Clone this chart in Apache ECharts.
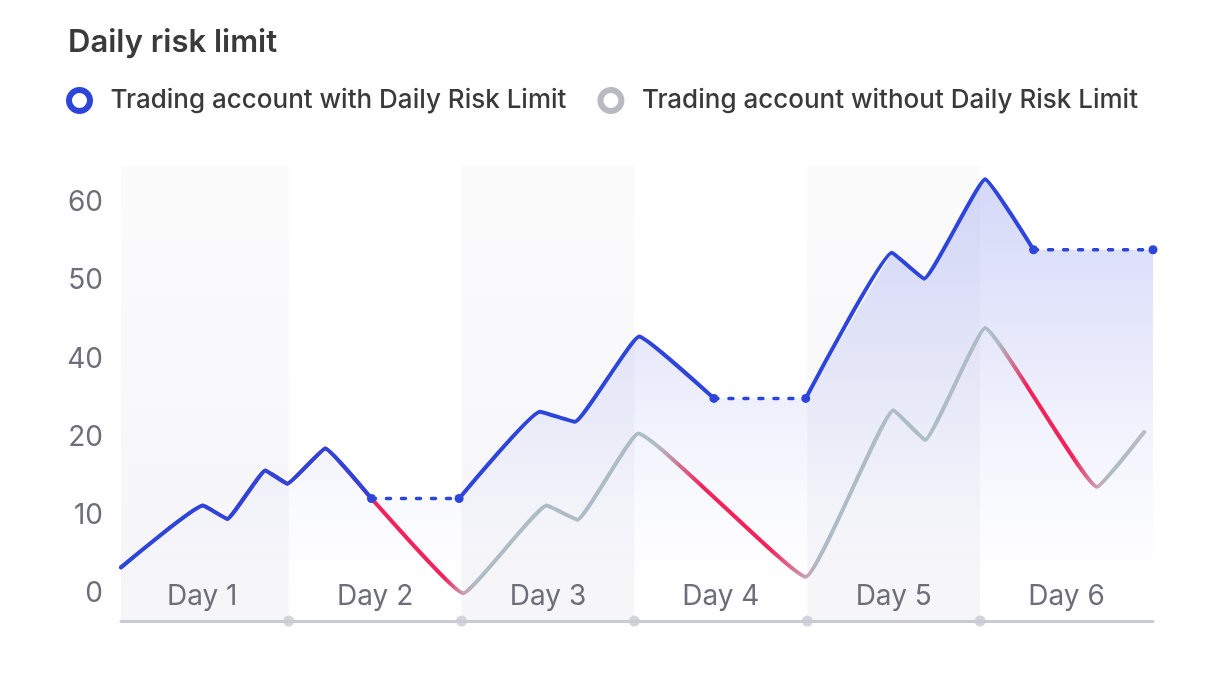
<!DOCTYPE html>
<html><head><meta charset="utf-8">
<script src="https://cdn.jsdelivr.net/npm/echarts@6/dist/echarts.min.js"></script>
<style>html,body{margin:0;padding:0;background:#fff}#c{width:1217px;height:686px}</style>
</head><body><div id="c"></div>
<script>
// ---- data ----
const dayLabels = ['Day 1', 'Day 2', 'Day 3', 'Day 4', 'Day 5', 'Day 6'];
const dayCenters = [0.5, 1.5, 2.5, 3.5, 4.5, 5.5];
const dayBoundaries = [1, 2, 3, 4, 5];
const shadedDays = [[0, 1], [2, 3], [4, 5]];
const yTickValues = [0, 10, 20, 30, 40, 50];
const yTickLabels = ['0', '10', '20', '40', '50', '60'];
const withName = 'Trading account with Daily Risk Limit';
const withoutName = 'Trading account without Daily Risk Limit';
const withX = [0.03, 0.504, 0.645, 0.865, 0.993, 1.212, 1.479, 1.986, 2.453, 2.656, 3.028, 3.460, 3.991, 4.489, 4.676, 5.029, 5.309, 6.0];
const withY = [3.4, 11.3, 9.6, 15.8, 14.1, 18.6, 12.2, 12.2, 23.3, 22.0, 32.9, 25.0, 25.0, 43.6, 40.3, 53.0, 44.0, 44.0];
const withoutX = [0.03, 0.504, 0.645, 0.865, 0.993, 1.212, 1.479, 2.010, 2.492, 2.671, 3.022, 3.991, 4.498, 4.682, 5.029, 5.676, 5.949];
const withoutY = [3.4, 11.3, 9.6, 15.8, 14.1, 18.6, 12.2, 0.1, 11.3, 9.5, 20.5, 2.2, 23.5, 19.7, 34.0, 13.7, 20.7];

// ---- styles ----
const BLUE = '#2d45da', GRAY = '#aebcc6', GRAY2 = '#b8bbc2', RED = '#f2225a', PINK = '#c8a0b4';
const LABEL = '#6e6e7b', FONT = 'Inter, "Noto Sans", sans-serif';
const X_MIN = 0.03, X_MAX = 6.0, Y_MIN = -3.45, Y_MAX = 54.7;

const pts = (xs, ys) => xs.map((x, i) => [x, ys[i]]);
const withPts = pts(withX, withY);
const withoutPts = pts(withoutX, withoutY);
const flat = withY.slice(0, -1).map((y, i) => y === withY[i + 1]);
const solidData = [withPts[0]];
const dottedData = [];
flat.forEach((f, i) => {
  const mid = (withX[i] + withX[i + 1]) / 2;
  if (f) {
    solidData.push([mid, '-']);
    dottedData.push(withPts[i], withPts[i + 1], [mid, '-']);
  }
  solidData.push(withPts[i + 1]);
});

const chart = echarts.init(document.getElementById('c'), null, {renderer: 'canvas'});
const option = {
  animation: false,
  backgroundColor: '#fff',
  title: {
    text: 'Daily risk limit', left: 63, top: 22,
    textStyle: {fontFamily: FONT, fontSize: 31, fontWeight: 600, color: '#3a3a3a'}
  },
  legend: {
    left: 61, top: 82, itemWidth: 52, itemHeight: 21, itemGap: 31,
    textStyle: {fontFamily: FONT, fontSize: 26, fontWeight: 500, color: '#3a3a3a'},
    data: [
      {name: withName, icon: 'circle', itemStyle: {color: '#fff', borderColor: BLUE, borderWidth: 6}},
      {name: withoutName, icon: 'circle', itemStyle: {color: '#fff', borderColor: '#b8b9c1', borderWidth: 6}}
    ]
  },
  grid: {left: 121, right: 64, top: 166, bottom: 65, containLabel: false},
  xAxis: {
    type: 'value', min: X_MIN, max: X_MAX, z: 6,
    splitLine: {show: false},
    axisTick: {show: false},
    axisLine: {show: true, onZero: false, lineStyle: {color: '#c9cad3', width: 3}},
    axisLabel: {
      inside: true, margin: 10, customValues: dayCenters,
      formatter: v => dayLabels[dayCenters.indexOf(Math.round(v * 10) / 10)] || '',
      fontFamily: FONT, fontSize: 28, color: LABEL
    }
  },
  yAxis: {
    type: 'value', min: Y_MIN, max: Y_MAX,
    splitLine: {show: false}, axisTick: {show: false}, axisLine: {show: false},
    axisLabel: {
      customValues: yTickValues, margin: 18,
      formatter: v => yTickLabels[yTickValues.indexOf(Math.round(v))],
      fontFamily: FONT, fontSize: 28, color: LABEL
    }
  },
  series: [
    {
      name: 'bands', type: 'line', data: [], z: 0, silent: true,
      markArea: {
        silent: true,
        itemStyle: {color: new echarts.graphic.LinearGradient(0, 0, 0, 1, [
          {offset: 0, color: '#fbfbfc'}, {offset: 1, color: '#f6f6f9'}])},
        data: shadedDays.map(d => [{xAxis: d[0]}, {xAxis: d[1]}])
      }
    },
    {
      name: 'area', type: 'line', data: withPts, z: 1, silent: true,
      symbol: 'none', lineStyle: {width: 0, opacity: 0},
      areaStyle: {color: new echarts.graphic.LinearGradient(0, 0, 0, 1, [
        {offset: 0, color: 'rgba(52,72,222,0.30)'},
        {offset: 0.45, color: 'rgba(52,72,222,0.15)'},
        {offset: 0.8, color: 'rgba(52,72,222,0.03)'},
        {offset: 1, color: 'rgba(52,72,222,0)'}])}
    },
    {
      name: withoutName, type: 'line', data: withoutPts, z: 3, smooth: 0.1,
      symbol: 'none', color: '#b8b9c1',
      lineStyle: {width: 4, color: GRAY, cap: 'round', join: 'round'}
    },
    {
      name: withName, type: 'line', data: solidData, z: 4, smooth: 0.1,
      symbol: 'none', color: BLUE, connectNulls: false,
      lineStyle: {width: 4, color: BLUE, cap: 'round', join: 'round'}
    },
    {
      name: 'hold', type: 'line', data: dottedData, z: 4, connectNulls: false,
      symbol: 'circle', symbolSize: 9, showSymbol: true,
      itemStyle: {color: BLUE},
      lineStyle: {width: 3.5, color: BLUE, type: [4, 11], cap: 'round'}
    },
    {
      name: 'axisDots', type: 'scatter', z: 7, clip: false, silent: true,
      symbolSize: 11, itemStyle: {color: '#c9cad3'},
      data: dayBoundaries.map(x => [x, Y_MIN])
    }
  ]
};
chart.setOption(option);

// gradient colouring of the "without" line: red where it falls away
const px = x => chart.convertToPixel({xAxisIndex: 0, yAxisIndex: 0}, [x, 0])[0];
const x0 = px(withoutX[0]), x1 = px(withoutX[withoutX.length - 1]);
const f = p => Math.min(1, Math.max(0, (p - x0) / (x1 - x0)));
const stops = [{offset: 0, color: GRAY}];
for (let i = 0; i < withoutX.length - 1; i++) {
  if (withoutY[i] - withoutY[i + 1] > 8) {
    const a = px(withoutX[i]), b = px(withoutX[i + 1]), L = b - a;
    const j = withX.indexOf(withoutX[i]);
    const shared = j >= 0 && withY[j] === withoutY[i];
    if (shared) {
      stops.push({offset: f(a), color: RED}, {offset: f(a + 0.8 * L), color: RED});
    } else {
      stops.push({offset: f(a + 0.12 * L), color: GRAY}, {offset: f(a + 0.38 * L), color: RED},
                 {offset: f(a + 0.78 * L), color: RED});
    }
    stops.push({offset: f(b), color: PINK}, {offset: f(b + 12), color: GRAY});
  }
}
stops.push({offset: 1, color: GRAY2});
chart.setOption({series: [{}, {}, {
  lineStyle: {color: new echarts.graphic.LinearGradient(x0, 0, x1, 0, stops, true)}
}]});
</script>
</body></html>
